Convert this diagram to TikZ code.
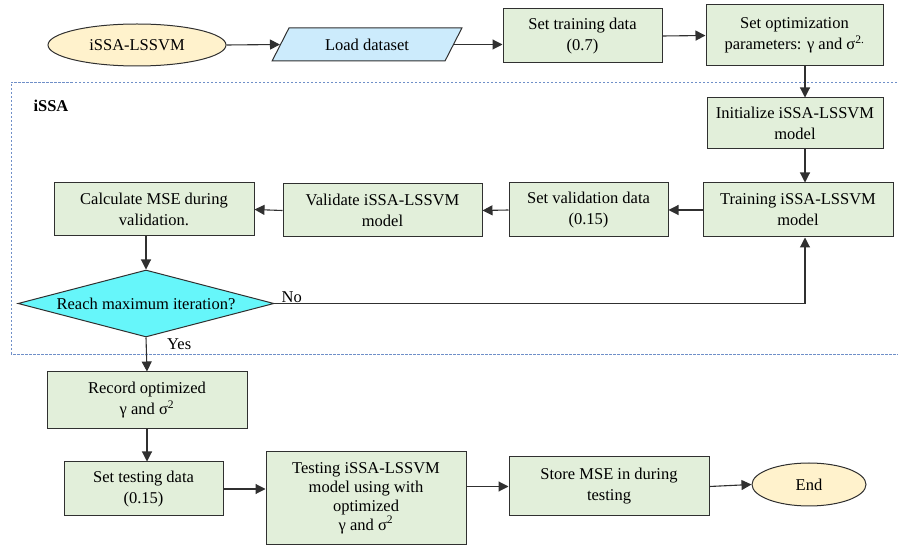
\documentclass[tikz,border=0pt]{standalone}
\usepackage{fontspec}
\setmainfont{LiberationSerif}[Extension=.ttf,UprightFont=*-Regular,BoldFont=*-Bold,ItalicFont=*-Italic]
\usetikzlibrary{shapes.geometric,arrows.meta}

\definecolor{boxgreen}{HTML}{E2EFDA}
\definecolor{termyellow}{HTML}{FFF2CC}
\definecolor{datablue}{HTML}{CCEBFC}
\definecolor{decicyan}{HTML}{66F6FA}
\definecolor{linegray}{HTML}{303030}
\definecolor{framblue}{HTML}{6F8FC8}

\begin{document}
\begin{tikzpicture}[x=1pt,y=-1pt,
        font=\fontsize{16.5}{21}\selectfont,
        proc/.style={draw=linegray,line width=1pt,fill=boxgreen,align=center,inner sep=2pt},
        term/.style={draw=linegray,line width=1pt,ellipse,fill=termyellow,inner sep=0pt},
        flow/.style={draw=linegray,line width=1.1pt,-{Triangle[length=10pt,width=10pt]}}]
    \useasboundingbox (0,0) rectangle (898,545);
    % iSSA block
    \draw[framblue,line width=0.8pt,dash pattern=on 2.5pt off 1.5pt] (905,82) -- (11,82) -- (11,354) -- (905,354);
    \node[font=\fontsize{16.5}{21}\selectfont\bfseries,anchor=west] (lbl) at (30,106) {iSSA};
    \coordinate (spine) at (805,0);

    % top row
    \node[term,minimum width=178,minimum height=42] (start) at (137,45) {iSSA-LSSVM};
    \node[draw=linegray,line width=1pt,fill=datablue,trapezium,trapezium left angle=52,trapezium right angle=128,
          trapezium stretches=true,minimum width=190,minimum height=33,inner sep=0pt] (load) at (367,44.5) {Load dataset};
    \node[proc,minimum width=159,minimum height=54] (train) at (582.5,36) {Set training data\\(0.7)};
    \node[proc,minimum width=177,minimum height=61] (optpar) at (794.5,35.5) {Set optimization\\parameters: γ and σ\textsuperscript{2.}};

    % inside the loop
    \node[proc,minimum width=176,minimum height=51] (init) at (795,123.5) {Initialize iSSA-LSSVM\\model};
    \node[proc,minimum width=190,minimum height=54] (trn) at (798,210) {Training iSSA-LSSVM\\model};
    \node[proc,minimum width=159,minimum height=54] (valdata) at (588.5,210) {Set validation data\\(0.15)};
    \node[proc,minimum width=199,minimum height=53] (valid) at (382.5,210.5) {Validate iSSA-LSSVM\\model};
    \node[proc,minimum width=200,minimum height=53] (calc) at (154,209.5) {Calculate MSE during\\validation.};
    \node[draw=linegray,line width=1pt,fill=decicyan,diamond,aspect=3.8,inner sep=0pt,
          minimum width=256,minimum height=67] (dec) at (146,303.5) {Reach maximum iteration?};

    % after the loop
    \node[proc,minimum width=200,minimum height=57] (rec) at (147,400.5) {Record optimized\\γ and σ\textsuperscript{2}};
    \node[proc,minimum width=159,minimum height=54] (tst) at (143.5,489) {Set testing data\\(0.15)};
    \node[proc,minimum width=200,minimum height=92,font=\fontsize{16.5}{19}\selectfont] (tstm) at (366,498)
        {Testing iSSA-LSSVM\\model using with\\optimized\\γ and σ\textsuperscript{2}};
    \node[proc,minimum width=200,minimum height=59] (store) at (609,486.5) {Store MSE in during\\testing};
    \node[term,minimum width=114,minimum height=43] (end) at (809,484.5) {End};

    % connectors
    \draw[flow] (start.east) -- (load.west);
    \draw[flow] (load.east) -- (load.east -| train.west);
    \draw[flow] (train.east) -- (optpar.west);
    \draw[flow] (optpar.south -| spine) -- (init.north -| spine);
    \draw[flow] (init.south -| spine) -- (trn.north -| spine);
    \draw[flow] (trn.west) -- (valdata.east);
    \draw[flow] (valdata.west) -- (valid.east);
    \draw[flow] (valid.west) -- (calc.east);
    \draw[flow] (calc.south -| dec.north) -- (dec.north);
    \draw[flow] (dec.east) -- (dec.east -| spine) -- (trn.south -| spine);
    \draw[flow] (dec.south) -- (rec.north);
    \draw[flow] (rec.south) -- (rec.south |- tst.north);
    \draw[flow] (tst.east) -- (tst.east -| tstm.west);
    \draw[flow] (store.west -| tstm.east) -- (store.west);
    \draw[flow] (store.east) -- (end.west);

    \node[anchor=south west,inner sep=1pt] (no) at ([xshift=6pt]dec.east) {No};
    \node[anchor=north west,inner sep=1pt] (yes) at ([xshift=20pt]dec.south) {Yes};
\end{tikzpicture}
\end{document}
